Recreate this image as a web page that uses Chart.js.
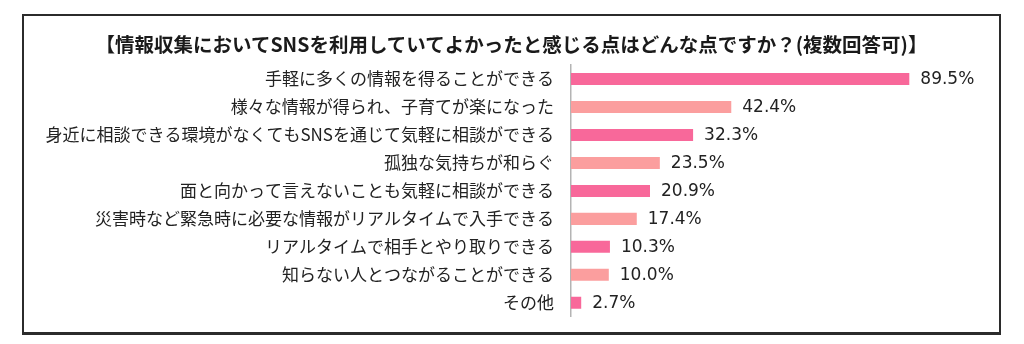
<!DOCTYPE html>
<html>
<head>
<meta charset="utf-8">
<script src="https://cdn.jsdelivr.net/npm/chart.js@4"></script>
<style>
  html, body { margin: 0; padding: 0; background: #fff; }
  #wrap { position: relative; width: 1024px; height: 344px; }
  #frame {
    position: absolute; left: 22px; top: 14px; width: 975px; height: 316px;
    border: 2px solid #2b2b2b; border-bottom-width: 3px; pointer-events: none;
  }
  #title {
    position: absolute; left: 22px; top: 32px; width: 979px; text-align: center;
    font: bold 19.5px 'Noto Sans CJK JP', 'Noto Sans', sans-serif; color: #1a1a1a;
    line-height: 24px; white-space: nowrap;
  }
  canvas { position: absolute; left: 0; top: 0; }
</style>
</head>
<body>
<div id="wrap">
  <canvas id="snsChart" width="1024" height="344"></canvas>
  <div id="title"></div>
  <div id="frame"></div>
</div>
<script>
const titleText = "【情報収集においてSNSを利用していてよかったと感じる点はどんな点ですか？(複数回答可)】";
const categories = [
  "手軽に多くの情報を得ることができる",
  "様々な情報が得られ、子育てが楽になった",
  "身近に相談できる環境がなくてもSNSを通じて気軽に相談ができる",
  "孤独な気持ちが和らぐ",
  "面と向かって言えないことも気軽に相談ができる",
  "災害時など緊急時に必要な情報がリアルタイムで入手できる",
  "リアルタイムで相手とやり取りできる",
  "知らない人とつながることができる",
  "その他"
];
const values = [89.5, 42.4, 32.3, 23.5, 20.9, 17.4, 10.3, 10.0, 2.7];

const darkPink = "#F8689A";
const lightPink = "#FB9E9E";
const jpFont = "'Noto Sans CJK JP', 'Noto Sans', sans-serif";

document.getElementById("title").textContent = titleText;

// percent labels at the end of each bar
const valueLabels = {
  id: "valueLabels",
  afterDatasetsDraw(chart) {
    const ctx = chart.ctx;
    const meta = chart.getDatasetMeta(0);
    ctx.save();
    ctx.font = "17px 'DejaVu Sans', Verdana, sans-serif";
    ctx.fillStyle = "#222";
    ctx.textAlign = "left";
    ctx.textBaseline = "middle";
    meta.data.forEach((bar, i) => {
      ctx.fillText(values[i].toFixed(1) + "%", bar.x + 11, bar.y + 1);
    });
    ctx.restore();
  }
};

new Chart(document.getElementById("snsChart"), {
  type: "bar",
  data: {
    labels: categories,
    datasets: [{
      data: values,
      backgroundColor: values.map((v, i) => i % 2 === 0 ? darkPink : lightPink),
      borderWidth: 0,
      categoryPercentage: 1,
      barPercentage: 0.43
    }]
  },
  options: {
    indexAxis: "y",
    responsive: false,
    animation: false,
    layout: { padding: { left: 25, right: 75, top: 65, bottom: 24 } },
    plugins: {
      legend: { display: false },
      tooltip: { enabled: false },
      title: { display: false }
    },
    scales: {
      x: { display: false, min: 0, max: 100 },
      y: {
        grid: { display: false, drawTicks: false },
        border: { display: true, color: "#b4b4b4", width: 1.5 },
        ticks: {
          autoSkip: false,
          padding: 17,
          color: "#222",
          font: { family: jpFont, size: 17 }
        },
        afterFit: (scale) => { scale.width = 546; }
      }
    }
  },
  plugins: [valueLabels]
});
</script>
</body>
</html>
